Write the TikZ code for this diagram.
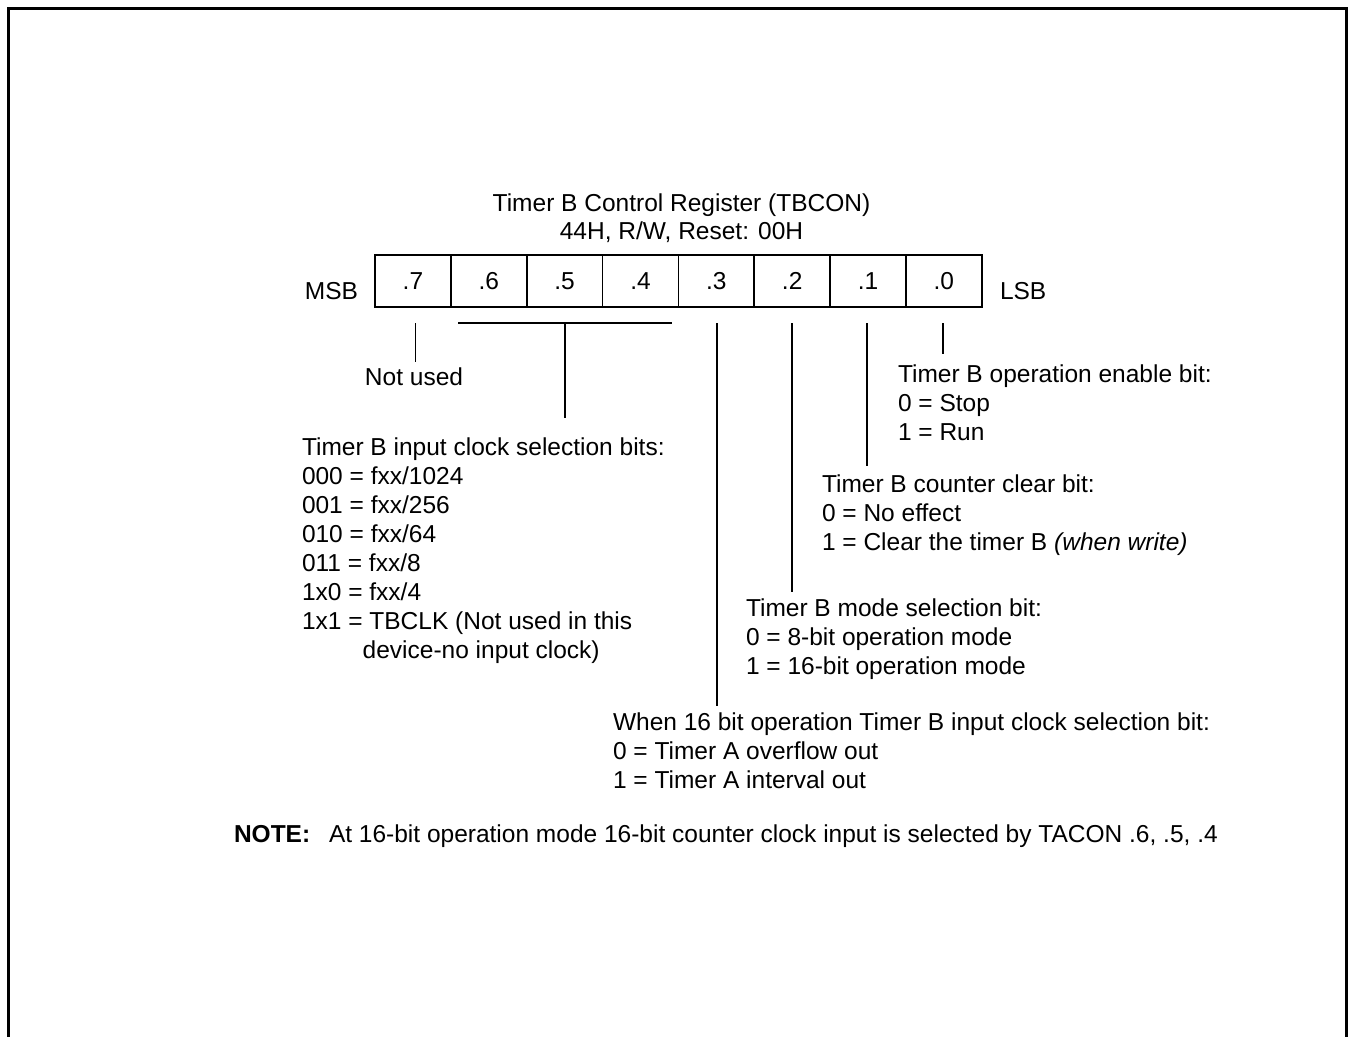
\documentclass[tikz,border=0pt]{standalone}
\usepackage{fontspec}
\setmainfont{Liberation Sans}
\begin{document}
\begin{tikzpicture}[x=1pt,y=-1pt,
  every node/.style={inner sep=0pt, outer sep=0pt, font=\fontsize{24.5}{29}\selectfont},
  txt/.style={anchor=base west, align=left},
  cell/.style={draw, line width=1.8pt, minimum width=75.85pt, minimum height=52pt},
  lead/.style={line width=1.8pt},
  frame/.style={line width=3pt}]
\useasboundingbox (0,0) rectangle (1349,1036);
\draw[frame] (8.5,1045) -- (8.5,8.5) -- (1346.5,8.5) -- (1346.5,1045);

% title
\node[anchor=base] (title1) at (681.5,211) {Timer B Control Register (TBCON)};
\node[anchor=base] (title2) at (681.5,239) {44H, R/W, Reset: 00H};

% register cells
\foreach \b [count=\k from 0] in {7,6,5,4,3,2,1,0}
  \node[cell] (c\b) at ({375+75.85*(\k+0.5)},281) {.\b};
\node[anchor=base east] (msb) at (358,299.3) {MSB};
\node[anchor=base west] (lsb) at (1000,299.3) {LSB};

% coordinates for leads
\coordinate (s7) at (415.5,323);
\coordinate (e7) at (415.5,362);
\coordinate (barL) at (458.3,323.3);
\coordinate (barR) at (672.3,323.3);
\coordinate (barM) at (565,323.3);
\coordinate (e5) at (565,417.5);
\coordinate (s3) at (716.7,323);
\coordinate (e3) at (716.7,706);
\coordinate (s2) at (791.7,323);
\coordinate (e2) at (791.7,592);
\coordinate (s1) at (867.3,323);
\coordinate (e1) at (867.3,466);
\coordinate (s0) at (943.3,323);
\coordinate (e0) at (943.3,353.5);

\draw[lead] (s7) -- (e7);
\draw[lead] (barL) -- (barR);
\draw[lead] (barM) -- (e5);
\draw[lead] (s3) -- (e3);
\draw[lead] (s2) -- (e2);
\draw[lead] (s1) -- (e1);
\draw[lead] (s0) -- (e0);

% descriptions (base anchor = baseline of last line)
\node[anchor=base] (notused) at (414,385) {Not used};

\node[txt] (enable) at (898,440) {Timer B operation enable bit:\\0 = Stop\\1 = Run};

\node[txt] (clock) at (302,658) {Timer B input clock selection bits:\\000 = fxx/1024\\001 = fxx/256\\010 = fxx/64\\011 = fxx/8\\1x0 = fxx/4\\1x1 = TBCLK (Not used in this\\\hspace*{60.7pt}device-no input clock)};

\node[txt] (clear) at (822,550) {Timer B counter clear bit:\\0 = No effect\\1 = Clear the timer B \textit{(when write)}};

\node[txt] (mode) at (746,674) {Timer B mode selection bit:\\0 = 8-bit operation mode\\1 = 16-bit operation mode};

\node[txt] (sixteen) at (613,788) {When 16 bit operation Timer B input clock selection bit:\\0 = Timer A overflow out\\1 = Timer A interval out};

\node[txt] (notelbl) at (234,842) {\textbf{NOTE:}};
\node[txt] (note) at (329,842) {At 16-bit operation mode 16-bit counter clock input is selected by TACON .6, .5, .4};
\end{tikzpicture}
\end{document}
